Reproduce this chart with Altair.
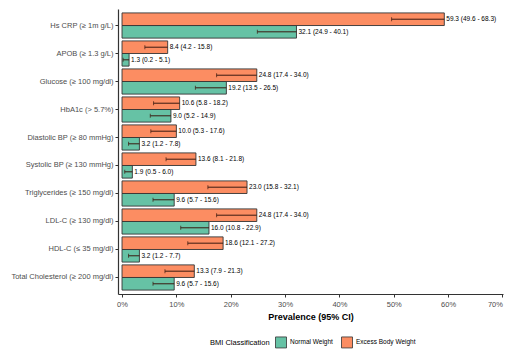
import altair as alt
import pandas as pd

categories = ["Hs CRP (≥ 1m g/L)", "APOB (≥ 1.3 g/L)", "Glucose (≥ 100 mg/dl)", "HbA1c (> 5.7%)",
              "Diastolic BP (≥ 80 mmHg)", "Systolic BP (≥ 130 mmHg)", "Triglycerides (≥ 150 mg/dl)",
              "LDL-C (≥ 130 mg/dl)", "HDL-C (≤ 35 mg/dl)", "Total Cholesterol (≥ 200 mg/dl)"]
groups = ["Normal Weight", "Excess Body Weight"]

excess_val = [59.3, 8.4, 24.8, 10.6, 10.0, 13.6, 23.0, 24.8, 18.6, 13.3]
excess_lo = [49.6, 4.2, 17.4, 5.8, 5.3, 8.1, 15.8, 17.4, 12.1, 7.9]
excess_hi = [68.3, 15.8, 34.0, 18.2, 17.6, 21.8, 32.1, 34.0, 27.2, 21.3]

normal_val = [32.1, 1.3, 19.2, 9.0, 3.2, 1.9, 9.6, 16.0, 3.2, 9.6]
normal_lo = [24.9, 0.2, 13.5, 5.2, 1.2, 0.5, 5.7, 10.8, 1.2, 5.7]
normal_hi = [40.1, 5.1, 26.5, 14.9, 7.8, 6.0, 15.6, 22.9, 7.7, 15.6]

colors = ["#66C2A5", "#FC8D62"]
x_ticks = [0, 10, 20, 30, 40, 50, 60, 70]

rows = []
for g, vals, los, his in [(groups[0], normal_val, normal_lo, normal_hi),
                          (groups[1], excess_val, excess_lo, excess_hi)]:
    for c, v, lo, hi in zip(categories, vals, los, his):
        rows.append({"cat": c, "group": g, "val": v, "lo": lo, "hi": hi,
                     "label": f"{v:.1f} ({lo:.1f} - {hi:.1f})"})
df = pd.DataFrame(rows)

FONT = "Liberation Sans"

y_enc = alt.Y("cat:N", sort=categories, title=None,
              scale=alt.Scale(domain=categories, paddingInner=0.1, paddingOuter=0.14),
              axis=alt.Axis(labelFont=FONT, labelFontSize=7.5, labelColor="#4D4D4D",
                            tickColor="#333333", tickSize=3, domainColor="#333333",
                            domainWidth=1.2, labelPadding=2))
yoff = alt.YOffset("group:N", scale=alt.Scale(domain=[groups[1], groups[0]]))
x_scale = alt.Scale(domain=[-0.74, 70.1], nice=False, zero=False)

bars = alt.Chart(df).mark_bar(stroke="#333333", strokeWidth=0.9).encode(
    x=alt.X("val:Q", scale=x_scale, title="Prevalence (95% CI)",
            axis=alt.Axis(values=x_ticks, labelExpr="datum.value + '%'", grid=False,
                          labelFont=FONT, labelFontSize=7.5, labelColor="#4D4D4D",
                          tickColor="#333333", tickSize=3, domainColor="#333333",
                          domainWidth=1.2, labelPadding=3, titleFont=FONT, titleFontSize=9,
                          titleFontWeight="bold", titleColor="#000000", titlePadding=5)),
    x2=alt.datum(0),
    y=y_enc,
    yOffset=yoff,
    color=alt.Color("group:N", scale=alt.Scale(domain=groups, range=colors),
                    legend=alt.Legend(title="BMI Classification", orient="none",
                                      direction="horizontal", titleOrient="left",
                                      legendX=92, legendY=327,
                                      titleFont=FONT, titleFontSize=7.5, titleFontWeight="normal",
                                      titleColor="#000000", labelFont=FONT, labelFontSize=6.5,
                                      labelColor="#000000", symbolType="square",
                                      symbolSize=121, symbolStrokeColor="#333333",
                                      symbolStrokeWidth=0.8, symbolOpacity=1,
                                      columnPadding=6, titlePadding=5, labelOffset=3)),
)

err = alt.Chart(df).mark_rule(color="#3a1a10", strokeWidth=1).encode(
    x=alt.X("lo:Q", scale=x_scale), x2="val:Q", y=alt.Y("cat:N", sort=categories), yOffset=yoff)

cap = alt.Chart(df).mark_tick(color="#3a1a10", thickness=1, size=4, orient="vertical").encode(
    x=alt.X("lo:Q", scale=x_scale), y=alt.Y("cat:N", sort=categories), yOffset=yoff)

labels = alt.Chart(df).mark_text(align="left", baseline="middle", dx=2, font=FONT,
                                 fontSize=6.5, color="#000000").encode(
    x=alt.X("val:Q", scale=x_scale), y=alt.Y("cat:N", sort=categories), yOffset=yoff,
    text="label:N")

chart = alt.layer(bars, err, cap, labels).properties(
    width=385, height=285,
    autosize=alt.AutoSizeParams(type="none"),
    padding={"left": 118, "top": 9, "right": 5, "bottom": 60},
    background="white",
).configure_view(stroke=None)

chart.save("out.html", embed_options={"renderer": "svg", "actions": False})
